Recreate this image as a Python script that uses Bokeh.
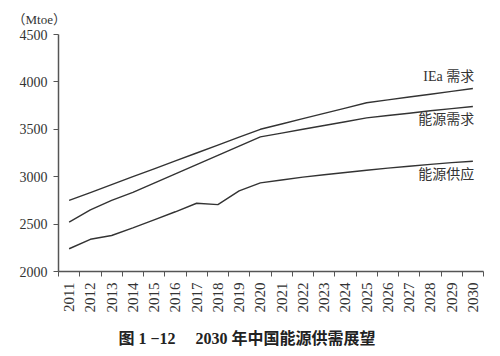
from bokeh.plotting import figure
from bokeh.models import FixedTicker, Label, Range1d, BasicTickFormatter, Title
from bokeh.embed import file_html
from bokeh.resources import INLINE
import math

years = list(range(2011, 2031))
iea_demand = [2750, 2833, 2917, 3000, 3083, 3167, 3250, 3333, 3417, 3500,
              3556, 3612, 3668, 3724, 3780, 3810, 3840, 3870, 3900, 3930]
energy_demand = [2520, 2650, 2750, 2835, 2932, 3030, 3128, 3225, 3323, 3420,
                 3460, 3500, 3540, 3580, 3620, 3645, 3670, 3695, 3718, 3740]
energy_supply = [2240, 2340, 2380, 2460, 2545, 2630, 2720, 2705, 2850, 2935,
                 2965, 2995, 3020, 3045, 3068, 3090, 3110, 3130, 3148, 3163]
y_ticks = [2000, 2500, 3000, 3500, 4000, 4500]
series_labels = ["IEa 需求", "能源需求", "能源供应"]
unit_label = "（Mtoe）"
caption = "图 1 −12　 2030 年中国能源供需展望"

FONT = "'Liberation Serif', 'Noto Sans CJK SC'"
TXT = "#333333"

p = figure(width=500, height=356, output_backend="svg", toolbar_location=None,
           x_range=Range1d(2010.5, 2030.5), y_range=Range1d(2000, 4500),
           min_border_left=58, min_border_right=17, min_border_top=34, min_border_bottom=85,
           frame_width=425, frame_height=237)
p.outline_line_color = None
p.grid.visible = False
p.background_fill_color = "white"

for ys in (iea_demand, energy_demand, energy_supply):
    p.line(years, ys, line_color="#333333", line_width=1.4)

xa = p.xaxis[0]
xa.ticker = FixedTicker(ticks=years, minor_ticks=[y - 0.5 for y in years] + [2030.5])
xa.formatter = BasicTickFormatter(use_scientific=False)
xa.major_tick_out = 0
xa.major_tick_in = 0
xa.minor_tick_out = 5
xa.minor_tick_in = 0
xa.minor_tick_line_color = "#555555"
xa.axis_line_color = "#555555"
xa.axis_line_width = 1.5
xa.major_label_orientation = math.pi / 2
xa.major_label_text_font = FONT
xa.major_label_text_font_size = "15px"
xa.major_label_text_color = TXT
xa.major_label_standoff = 6

ya = p.yaxis[0]
ya.ticker = FixedTicker(ticks=y_ticks)
ya.major_tick_out = 5
ya.major_tick_in = 0
ya.minor_tick_out = 0
ya.minor_tick_in = 0
ya.major_tick_line_color = "#555555"
ya.axis_line_color = "#555555"
ya.axis_line_width = 1.5
ya.major_label_text_font = FONT
ya.major_label_text_font_size = "14px"
ya.major_label_text_color = TXT
ya.major_label_standoff = 6

label_pos = [(2030.06, 4056), (2030.06, 3602), (2030.06, 3021)]
for txt, (lx, ly) in zip(series_labels, label_pos):
    p.add_layout(Label(x=lx, y=ly, text=txt, text_align="right", text_baseline="middle",
                       text_font=FONT, text_font_size="14px", text_color=TXT))

p.add_layout(Title(text=unit_label, align="left", offset=-46, standoff=11,
                   vertical_align="top",
                   text_font=FONT, text_font_size="13px", text_font_style="normal",
                   text_color=TXT), "above")

p.add_layout(Title(text=caption, align="left", standoff=25, offset=60,
                   text_font=FONT, text_font_size="16px", text_font_style="bold",
                   text_color="#222222"), "below")

open("out.html", "w").write(file_html(p, INLINE))
